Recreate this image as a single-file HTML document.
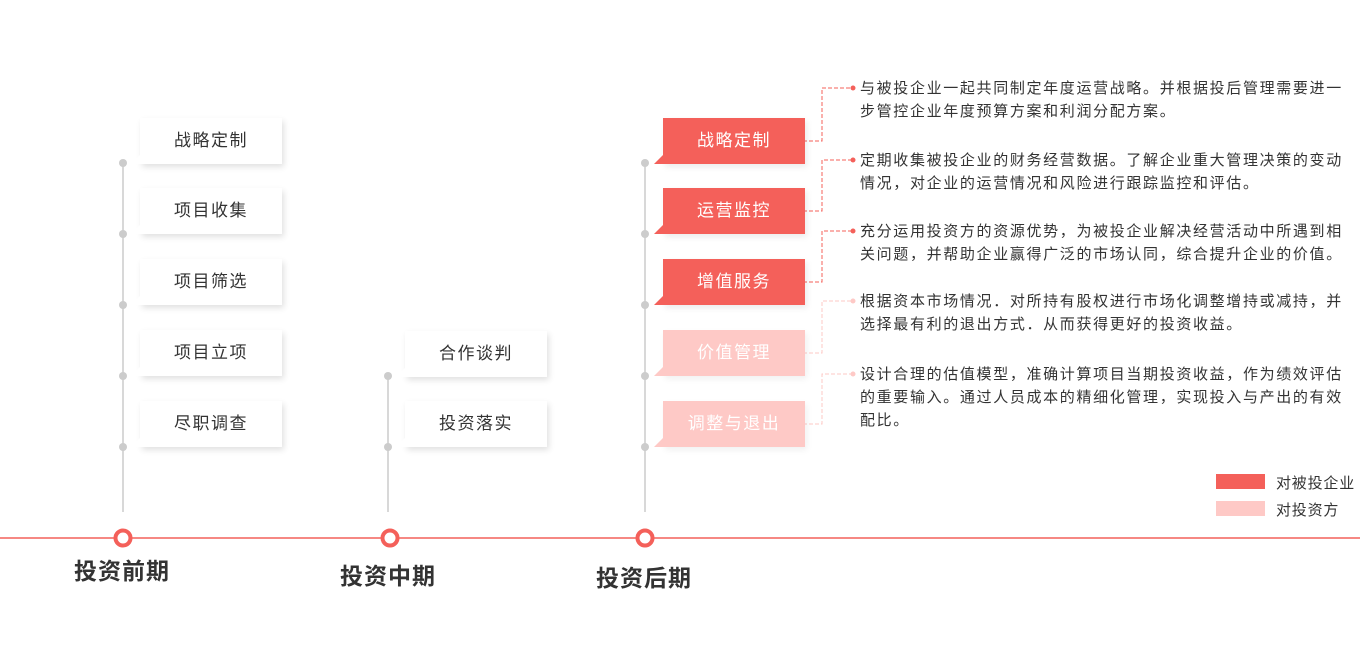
<!DOCTYPE html>
<html><head><meta charset="utf-8"><style>
body{margin:0;width:1360px;height:670px;background:#fff;position:relative;overflow:hidden;font-family:"Liberation Sans","Noto Sans CJK SC",sans-serif;}
.b{position:absolute;width:142px;height:46px;line-height:46px;text-align:center;font-size:17px;letter-spacing:1.5px;color:#333;background:#fff;box-shadow:2px 3px 6px rgba(0,0,0,0.12);}
.b:before{content:"";position:absolute;left:-9px;bottom:0;border-style:solid;border-width:0 0 9px 9px;border-color:transparent transparent #fff transparent;}
.r{background:#f4605a;color:#fff;box-shadow:2px 3px 6px rgba(0,0,0,0.08);}
.r:before{border-color:transparent transparent #f4605a transparent;}
.p{background:#fec9c6;color:#fff;box-shadow:2px 3px 6px rgba(0,0,0,0.06);}
.p:before{border-color:transparent transparent #fec9c6 transparent;}
.t{position:absolute;left:860px;white-space:nowrap;font-size:15px;letter-spacing:1.65px;line-height:23px;color:#333;}
.h{position:absolute;font-size:23px;letter-spacing:1px;font-weight:bold;color:#333;}
.lg{position:absolute;left:1276px;font-size:15px;letter-spacing:0.8px;color:#333;}
</style></head><body>
<svg width="1360" height="670" style="position:absolute;left:0;top:0">
<g stroke="#ccc" stroke-width="1.5"><line x1="123" y1="162" x2="123" y2="512"/><line x1="388" y1="375" x2="388" y2="512"/><line x1="645" y1="162" x2="645" y2="512"/></g>
<g fill="#ccc"><circle cx="123" cy="163" r="4"/><circle cx="123" cy="234" r="4"/><circle cx="123" cy="305" r="4"/><circle cx="123" cy="376" r="4"/><circle cx="123" cy="447" r="4"/>
<circle cx="388" cy="376" r="4"/><circle cx="388" cy="447" r="4"/>
<circle cx="645" cy="163" r="4"/><circle cx="645" cy="234" r="4"/><circle cx="645" cy="305" r="4"/><circle cx="645" cy="376" r="4"/><circle cx="645" cy="447" r="4"/></g>
<line x1="0" y1="538" x2="1360" y2="538" stroke="#f4605a" stroke-width="1.5"/>
<g fill="#fff" stroke="#f4605a" stroke-width="4"><circle cx="123" cy="538" r="7.5"/><circle cx="390" cy="538" r="7.5"/><circle cx="645" cy="538" r="7.5"/></g>
<g fill="none" stroke-dasharray="4,2" stroke-width="1">
<polyline stroke="#f4605a" points="803,141 822,141 822,88 852,88"/>
<polyline stroke="#f4605a" points="803,211 822,211 822,160 852,160"/>
<polyline stroke="#f4605a" points="803,282 822,282 822,231 852,231"/>
<polyline stroke="#fec9c6" points="803,353 822,353 822,301 852,301"/>
<polyline stroke="#fec9c6" points="803,424 822,424 822,374 852,374"/>
</g>
<g><circle cx="853" cy="88" r="2.5" fill="#f4605a"/><circle cx="853" cy="160" r="2.5" fill="#f4605a"/><circle cx="853" cy="231" r="2.5" fill="#f4605a"/><circle cx="853" cy="301" r="2.5" fill="#fec9c6"/><circle cx="853" cy="374" r="2.5" fill="#fec9c6"/></g>
<rect x="1216" y="474" width="49" height="15" fill="#f4605a"/><rect x="1216" y="501" width="49" height="15" fill="#fec9c6"/>
</svg>
<div class="b" style="left:140px;top:118px">战略定制</div>
<div class="b" style="left:140px;top:188px">项目收集</div>
<div class="b" style="left:140px;top:259px">项目筛选</div>
<div class="b" style="left:140px;top:330px">项目立项</div>
<div class="b" style="left:140px;top:401px">尽职调查</div>
<div class="b" style="left:405px;top:331px">合作谈判</div>
<div class="b" style="left:405px;top:401px">投资落实</div>
<div class="b r" style="left:663px;top:118px">战略定制</div>
<div class="b r" style="left:663px;top:188px">运营监控</div>
<div class="b r" style="left:663px;top:259px">增值服务</div>
<div class="b p" style="left:663px;top:330px">价值管理</div>
<div class="b p" style="left:663px;top:401px">调整与退出</div>
<div class="t" style="top:77px">与被投企业一起共同制定年度运营战略。并根据投后管理需要进一<br>步管控企业年度预算方案和利润分配方案。</div>
<div class="t" style="top:149px">定期收集被投企业的财务经营数据。了解企业重大管理决策的变动<br>情况，对企业的运营情况和风险进行跟踪监控和评估。</div>
<div class="t" style="top:220px">充分运用投资方的资源优势，为被投企业解决经营活动中所遇到相<br>关问题，并帮助企业赢得广泛的市场认同，综合提升企业的价值。</div>
<div class="t" style="top:290px">根据资本市场情况．对所持有股权进行市场化调整增持或减持，并<br>选择最有利的退出方式．从而获得更好的投资收益。</div>
<div class="t" style="top:363px">设计合理的估值模型，准确计算项目当期投资收益，作为绩效评估<br>的重要输入。通过人员成本的精细化管理，实现投入与产出的有效<br>配比。</div>
<div class="lg" style="top:472px">对被投企业</div>
<div class="lg" style="top:499px">对投资方</div>
<div class="h" style="left:74px;top:552px">投资前期</div>
<div class="h" style="left:340px;top:557px">投资中期</div>
<div class="h" style="left:596px;top:559px">投资后期</div>
</body></html>
